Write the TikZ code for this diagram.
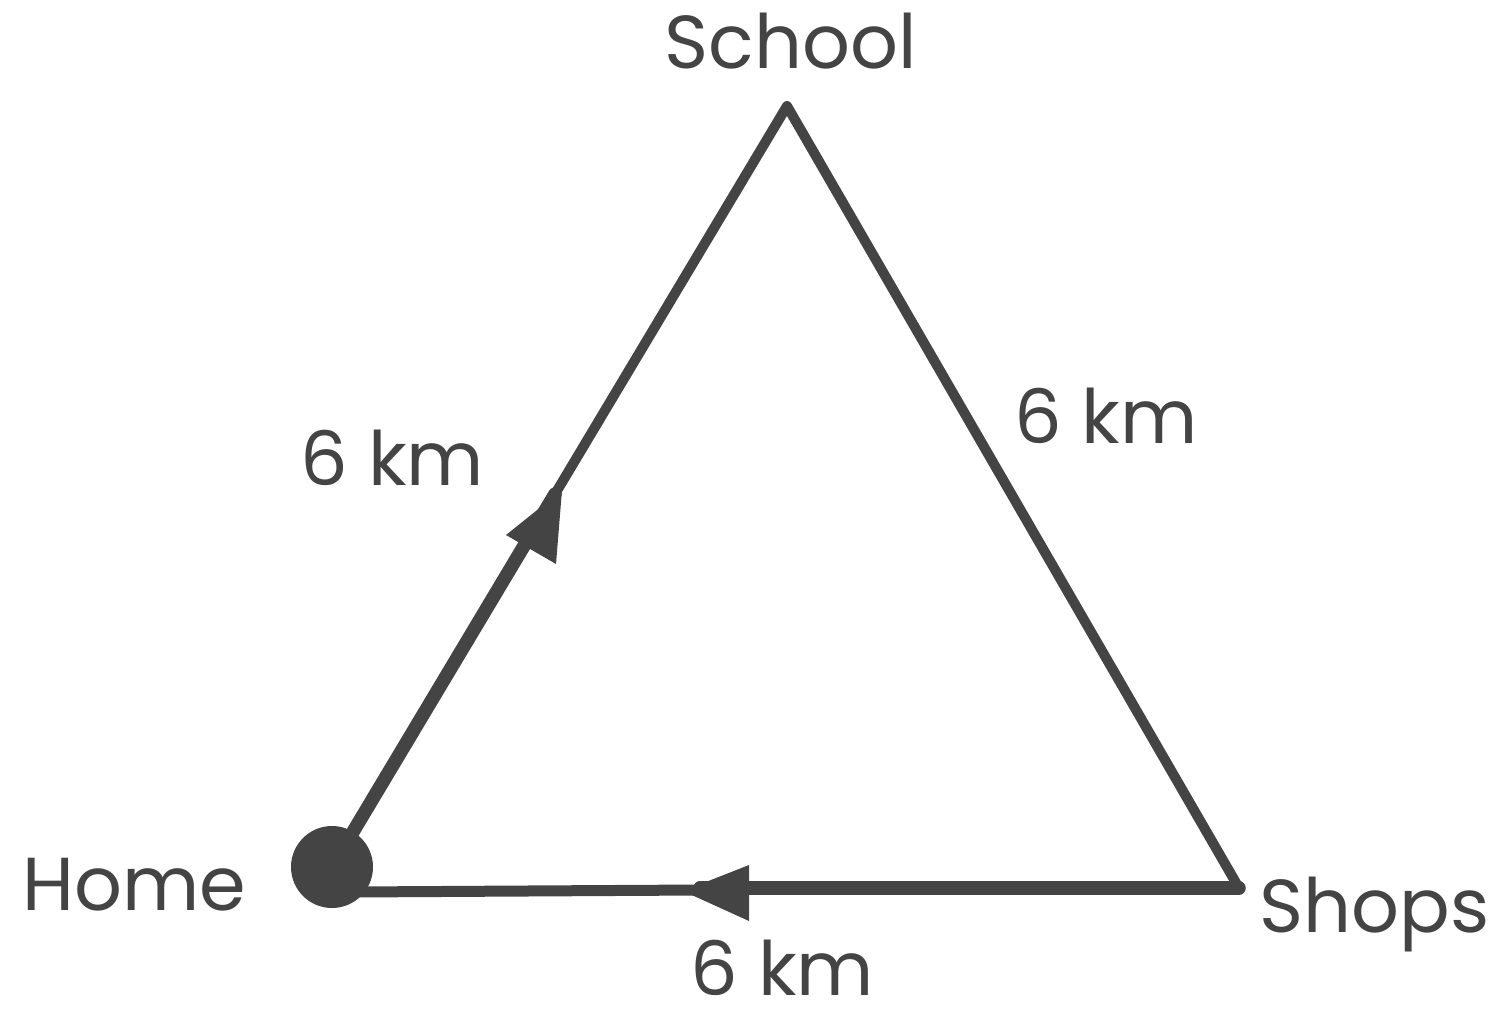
\documentclass[tikz,border=0pt]{standalone}
\usepackage{fontspec}
\setmainfont{Poppins}
\usetikzlibrary{calc}
\definecolor{ink}{HTML}{444444}
\begin{document}
\begin{tikzpicture}[x=1pt,y=-1pt,
  lbl/.style={anchor=base, text=ink, font=\fontsize{75}{80}\selectfont, inner sep=0pt},
  edgethin/.style={draw=ink, line width=10pt, line cap=round, line join=round},
  edgethick/.style={draw=ink, line width=13.5pt, line cap=round, line join=round},
  tipshape/.style={fill=ink}]
\useasboundingbox (0,0) rectangle (1509,1009);
% vertices
\coordinate (A) at (787,106);
\coordinate (S) at (1239,888);
\node[circle, fill=ink, minimum size=82pt, inner sep=0pt] (home) at (332,867) {};
\coordinate (T1) at ($(home.center)!0.49!(A)$);
\coordinate (T2) at (700,890);
\coordinate (HB) at (352,892);
% edges
\draw[edgethick] (home.center) -- (T1);
\draw[edgethin] (T1) -- (A) -- (S);
\draw[edgethick] (S) -- (T2 |- S);
\draw[draw=ink, line width=11pt] (T2) -- (HB);
% arrow heads
\fill[tipshape] (562,490) -- (506,535) -- (556,564) -- cycle;
\fill[tipshape] (683,891) -- (749,865) -- (749,921) -- cycle;
% labels
\node[lbl] (lschool) at (790.5,68) {School};
\node[lbl] (lhome) at (134.5,910) {Home};
\node[lbl] (lshops) at (1374.5,932) {Shops};
\node[lbl] (dleft) at (392.5,485) {6 km};
\node[lbl] (dright) at (1106,443) {6 km};
\node[lbl] (dbottom) at (782.5,995) {6 km};
\end{tikzpicture}
\end{document}
